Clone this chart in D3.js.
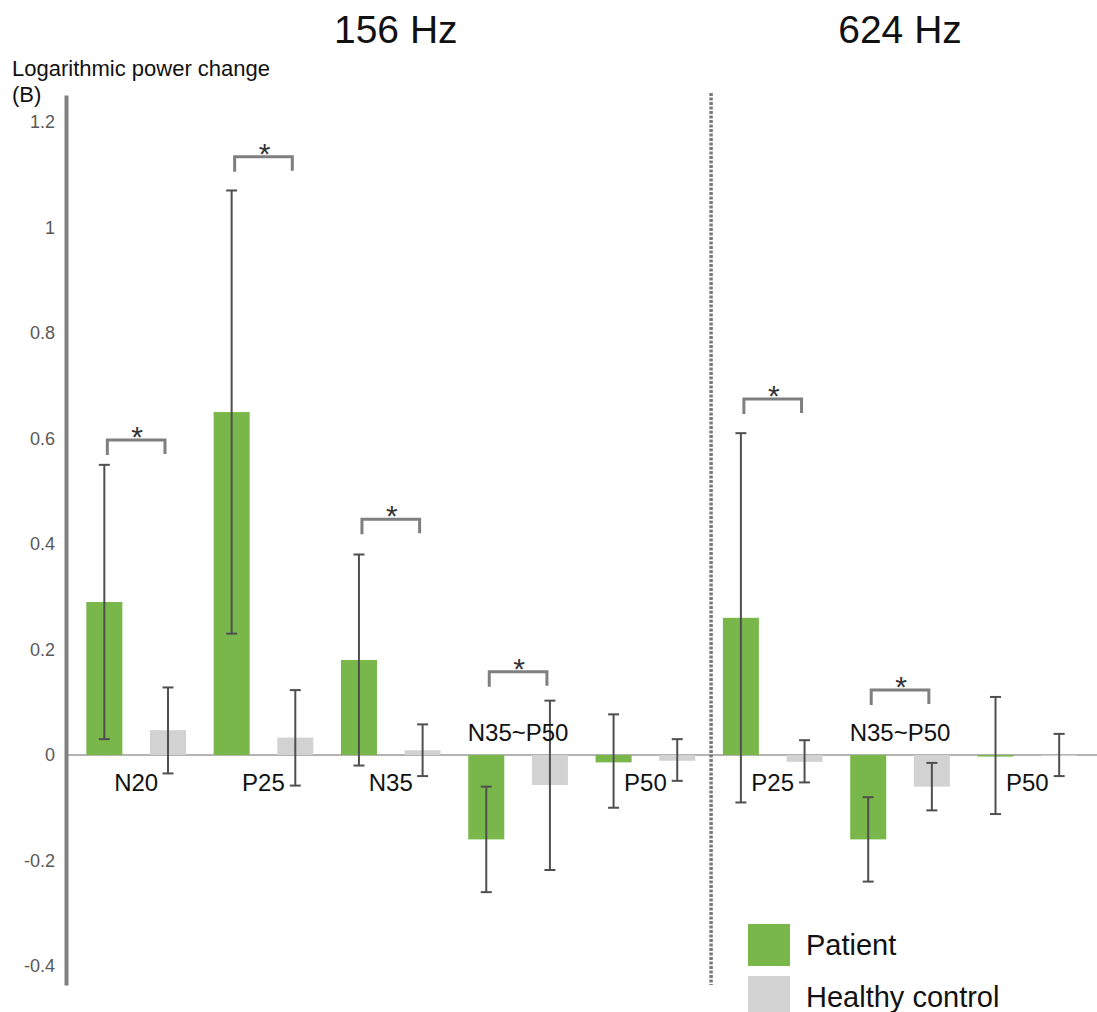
<!DOCTYPE html>
<html>
<head>
<meta charset="utf-8">
<script src="https://cdn.jsdelivr.net/npm/d3@7"></script>
<style>
  body { margin: 0; background: #fff; }
  svg { display: block; font-family: "Liberation Sans", Arial, sans-serif; }
</style>
</head>
<body>
<svg width="1097" height="1012"></svg>
<script>
// values
let freqs = ['156 Hz', '624 Hz'];
let groupFreq = ['156 Hz', '156 Hz', '156 Hz', '156 Hz', '156 Hz', '624 Hz', '624 Hz', '624 Hz'];
let groupLabels = ['N20', 'P25', 'N35', 'N35~P50', 'P50', 'P25', 'N35~P50', 'P50'];
let series = ['Patient', 'Healthy control'];

let patientMean = [0.29, 0.65, 0.18, -0.16, -0.014, 0.26, -0.16, -0.003];
let patientLow = [0.03, 0.23, -0.02, -0.26, -0.10, -0.09, -0.24, -0.112];
let patientHigh = [0.55, 1.07, 0.38, -0.06, 0.077, 0.61, -0.08, 0.11];

let controlMean = [0.047, 0.033, 0.009, -0.057, -0.011, -0.013, -0.06, -0.001];
let controlLow = [-0.035, -0.058, -0.04, -0.218, -0.049, -0.052, -0.105, -0.04];
let controlHigh = [0.128, 0.123, 0.058, 0.103, 0.03, 0.028, -0.015, 0.04];

// height of the significance bracket (null = none)
let sigLevel = [0.597, 1.134, 0.447, 0.158, null, 0.675, 0.123, null];

let yTicks = [-0.4, -0.2, 0, 0.2, 0.4, 0.6, 0.8, 1, 1.2];

let colors = { 'Patient': '#79b74b', 'Healthy control': '#d2d2d2' };

let svg = d3.select('svg');

let y = d3.scaleLinear().domain([-0.436, 1.251]).range([985, 95]);
let x0 = d3.scaleBand().domain(d3.range(groupLabels.length)).range([72.5, 1091]);
let x1 = d3.scaleBand().domain(series).range([0, x0.bandwidth()])
	.paddingInner(0.434).paddingOuter(0.217);

let bars = [];
groupLabels.forEach((g, i) => {
	bars.push({ g: i, s: 'Patient', v: patientMean[i], lo: patientLow[i], hi: patientHigh[i] });
	bars.push({ g: i, s: 'Healthy control', v: controlMean[i], lo: controlLow[i], hi: controlHigh[i] });
});
let cx = d => x0(d.g) + x1(d.s) + x1.bandwidth() / 2;

// zero line
svg.append('line')
	.attr('x1', 66).attr('x2', 1097)
	.attr('y1', y(0)).attr('y2', y(0))
	.attr('stroke', '#9a9a9a').attr('stroke-width', 1.5);

// bars
svg.append('g').selectAll('rect')
	.data(bars)
	.join('rect')
	.attr('x', d => x0(d.g) + x1(d.s))
	.attr('width', x1.bandwidth())
	.attr('y', d => y(Math.max(0, d.v)))
	.attr('height', d => Math.max(1, Math.abs(y(d.v) - y(0))))
	.attr('fill', d => colors[d.s]);

// error bars
let err = svg.append('g')
	.attr('stroke', '#4f4f4f')
	.attr('stroke-width', 2)
	.selectAll('g')
	.data(bars)
	.join('g');
err.append('line')
	.attr('x1', cx).attr('x2', cx)
	.attr('y1', d => y(d.lo)).attr('y2', d => y(d.hi));
err.append('line')
	.attr('x1', d => cx(d) - 5.5).attr('x2', d => cx(d) + 5.5)
	.attr('y1', d => y(d.hi)).attr('y2', d => y(d.hi));
err.append('line')
	.attr('x1', d => cx(d) - 5.5).attr('x2', d => cx(d) + 5.5)
	.attr('y1', d => y(d.lo)).attr('y2', d => y(d.lo));

// significance brackets
let sig = sigLevel.map((v, i) => ({ g: i, v: v })).filter(d => d.v !== null);
svg.append('g').selectAll('path')
	.data(sig)
	.join('path')
	.attr('fill', 'none')
	.attr('stroke', '#7f7f7f')
	.attr('stroke-width', 3)
	.attr('d', d => {
		let a = cx({ g: d.g, s: 'Patient' }) + 3;
		let b = cx({ g: d.g, s: 'Healthy control' }) - 3;
		let t = y(d.v);
		return `M${a},${t + 15}V${t}H${b}V${t + 14}`;
	});
svg.append('g').selectAll('text')
	.data(sig)
	.join('text')
	.attr('x', d => x0(d.g) + x0.bandwidth() / 2 + 1)
	.attr('y', d => y(d.v) + 7)
	.attr('text-anchor', 'middle')
	.attr('font-size', 30)
	.attr('fill', '#333')
	.text('*');

// category labels: above the zero line when the patient bar hangs well below it
svg.append('g').selectAll('text')
	.data(groupLabels)
	.join('text')
	.attr('x', (d, i) => x0(i) + x0.bandwidth() / 2)
	.attr('y', (d, i) => patientMean[i] < -0.1 ? y(0) - 14 : y(0) + 36)
	.attr('text-anchor', 'middle')
	.attr('font-size', 24)
	.attr('fill', '#111')
	.text(d => d);

// y axis
let yAxis = svg.append('g')
	.attr('transform', 'translate(66,0)')
	.call(d3.axisLeft(y).tickValues(yTicks).tickSize(0).tickPadding(11)
		.tickFormat(d => String(+d.toFixed(1))));
yAxis.select('.domain').attr('stroke', '#808080').attr('stroke-width', 4);
yAxis.selectAll('text')
	.attr('font-size', 18)
	.attr('font-family', '"Liberation Sans", Arial, sans-serif')
	.attr('fill', '#595959');

svg.append('text')
	.attr('x', 12).attr('y', 76)
	.attr('font-size', 22).attr('fill', '#111')
	.text('Logarithmic power change');
svg.append('text')
	.attr('x', 12).attr('y', 102)
	.attr('font-size', 22).attr('fill', '#111')
	.text('(B)');

// divider between frequencies
let split = groupFreq.indexOf('624 Hz');
svg.append('line')
	.attr('x1', x0(split) + 2).attr('x2', x0(split) + 2)
	.attr('y1', 93).attr('y2', 985)
	.attr('stroke', '#7a7a7a')
	.attr('stroke-width', 3.5)
	.attr('stroke-dasharray', '3,1.5');

// frequency titles
svg.append('g').selectAll('text')
	.data(freqs)
	.join('text')
	.attr('x', f => {
		let idx = d3.range(groupFreq.length).filter(i => groupFreq[i] === f);
		return (x0(idx[0]) + x0(idx[idx.length - 1]) + x0.bandwidth()) / 2 + (f === freqs[0] ? 5 : 0);
	})
	.attr('y', 43)
	.attr('text-anchor', 'middle')
	.attr('font-size', 39)
	.attr('fill', '#111')
	.text(f => f);

// legend
let legend = svg.append('g').selectAll('g')
	.data(series)
	.join('g')
	.attr('transform', (d, i) => `translate(748,${924 + i * 52})`);
legend.append('rect')
	.attr('width', 42).attr('height', 42)
	.attr('fill', d => colors[d]);
legend.append('text')
	.attr('x', 58).attr('y', 31)
	.attr('font-size', 29)
	.attr('fill', '#111')
	.text(d => d);
</script>
</body>
</html>
